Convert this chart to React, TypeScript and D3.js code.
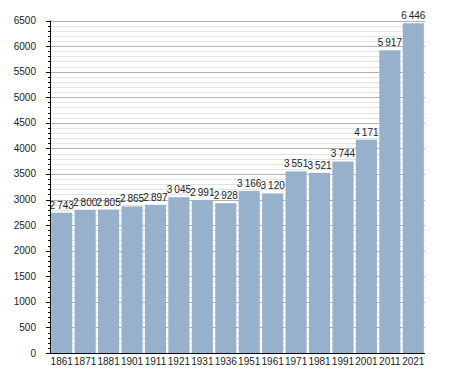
import { useRef, useEffect } from "react";
import * as d3 from "d3";

const years = ["1861", "1871", "1881", "1901", "1911", "1921", "1931", "1936", "1951", "1961", "1971", "1981", "1991", "2001", "2011", "2021"];
const population = [2743, 2800, 2805, 2865, 2897, 3045, 2991, 2928, 3166, 3120, 3551, 3521, 3744, 4171, 5917, 6446];
const majorTicks = d3.range(0, 6501, 500);
const minorTicks = d3.range(0, 6501, 100);

const fmt = (v: number) => d3.format(",")(v).replace(/,/g, "\u2009");

export default function App() {
  const ref = useRef<SVGSVGElement | null>(null);

  useEffect(() => {
    if (!ref.current) return;
    const svg = d3.select(ref.current);
    svg.selectAll("*").remove();

    const margin = { top: 20.5, right: 30, bottom: 20, left: 50 };
    const width = 455;
    const height = 373;

    const x = d3
      .scaleBand<string>()
      .domain(years)
      .range([margin.left, width - margin.right])
      .paddingInner(0.1)
      .paddingOuter(0.05);

    const y = d3
      .scaleLinear()
      .domain([0, 6500])
      .range([height - margin.bottom, margin.top]);

    const font = "Liberation Sans, Arial, sans-serif";

    // minor grid
    svg
      .append("g")
      .selectAll("line")
      .data(minorTicks.filter((d) => d % 500 !== 0))
      .join("line")
      .attr("x1", margin.left)
      .attr("x2", width - margin.right)
      .attr("y1", (d) => Math.round(y(d)) + 0.5)
      .attr("y2", (d) => Math.round(y(d)) + 0.5)
      .attr("stroke", "#e2e2e2");

    // major grid
    svg
      .append("g")
      .selectAll("line")
      .data(majorTicks.slice(1))
      .join("line")
      .attr("x1", margin.left)
      .attr("x2", width - margin.right)
      .attr("y1", (d) => Math.round(y(d)) + 0.5)
      .attr("y2", (d) => Math.round(y(d)) + 0.5)
      .attr("stroke", "#b0b0b0");

    // bars
    svg
      .append("g")
      .selectAll("rect")
      .data(population)
      .join("rect")
      .attr("x", (_, i) => x(years[i]) ?? 0)
      .attr("y", (d) => y(d))
      .attr("width", x.bandwidth())
      .attr("height", (d) => y(0) - y(d))
      .attr("fill", "#97b0cb");

    // value labels
    svg
      .append("g")
      .selectAll("text")
      .data(population)
      .join("text")
      .attr("x", (_, i) => (x(years[i]) ?? 0) + x.bandwidth() / 2)
      .attr("y", (d) => y(d) - 4)
      .attr("text-anchor", "middle")
      .attr("font-family", font)
      .attr("font-size", 10)
      .attr("fill", "#222")
      .text((d) => fmt(d));

    // y axis minor ticks
    svg
      .append("g")
      .selectAll("line")
      .data(minorTicks)
      .join("line")
      .attr("x1", margin.left - 2)
      .attr("x2", margin.left)
      .attr("y1", (d) => Math.round(y(d)) + 0.5)
      .attr("y2", (d) => Math.round(y(d)) + 0.5)
      .attr("stroke", "#000");

    svg
      .append("g")
      .selectAll("line")
      .data(majorTicks)
      .join("line")
      .attr("x1", margin.left - 4)
      .attr("x2", margin.left)
      .attr("y1", (d) => Math.round(y(d)) + 0.5)
      .attr("y2", (d) => Math.round(y(d)) + 0.5)
      .attr("stroke", "#000");

    svg
      .append("g")
      .selectAll("text")
      .data(majorTicks)
      .join("text")
      .attr("x", margin.left - 14)
      .attr("y", (d) => y(d) + 3.5)
      .attr("text-anchor", "end")
      .attr("font-family", font)
      .attr("font-size", 10)
      .attr("fill", "#222")
      .text((d) => String(d));

    // axis lines
    svg
      .append("line")
      .attr("x1", margin.left + 0.5)
      .attr("x2", margin.left + 0.5)
      .attr("y1", y(6500))
      .attr("y2", y(0))
      .attr("stroke", "#000");
    svg
      .append("line")
      .attr("x1", margin.left)
      .attr("x2", width - margin.right)
      .attr("y1", Math.round(y(0)) + 0.5)
      .attr("y2", Math.round(y(0)) + 0.5)
      .attr("stroke", "#000");

    // x labels
    svg
      .append("g")
      .selectAll("text")
      .data(years)
      .join("text")
      .attr("x", (d) => (x(d) ?? 0) + x.bandwidth() / 2)
      .attr("y", y(0) + 12)
      .attr("text-anchor", "middle")
      .attr("font-family", font)
      .attr("font-size", 10)
      .attr("fill", "#222")
      .text((d) => d);
  }, []);

  return (
    <svg
      ref={ref}
      width={455}
      height={373}
      style={{ position: "absolute", left: 0, top: 0, background: "#fff" }}
    />
  );
}
